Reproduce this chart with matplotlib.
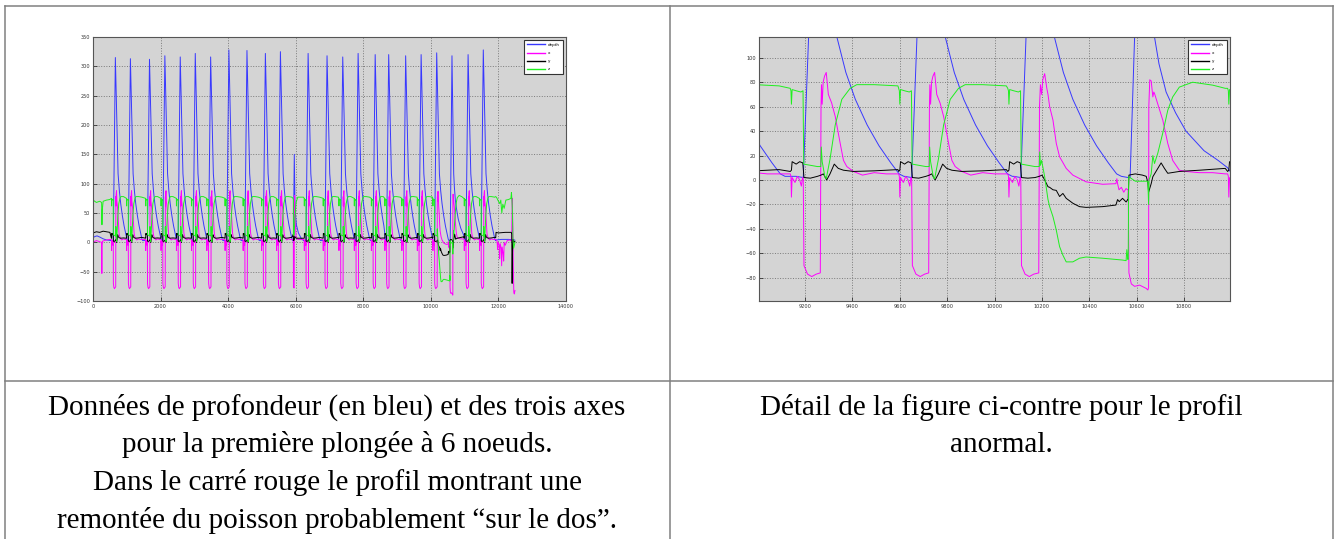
import numpy as np
import matplotlib
matplotlib.use("Agg")
import matplotlib.pyplot as plt
from matplotlib.lines import Line2D

# ---- dives (descent start, max depth, kind) ----
dive_t0 = [600, 1045, 1610, 2065, 2520, 2965, 3420, 3960, 4495, 5040, 5485, 5930,
           6305, 6865, 7330, 7785, 8290, 8690, 9192, 9650, 10111, 10565, 11040, 11490]
dive_peak = [315, 313, 312, 318, 316, 322, 316, 328, 327, 322, 325, 150,
             322, 318, 316, 322, 320, 320, 318, 320, 323, 318, 320, 328]
dive_kind = ['n'] * 11 + ['s'] + ['n'] * 8 + ['a', 'r', 'n', 'n']

# ---- dive profiles (offsets from descent start) ----
# normal dive
dep_n_off = [-30, 0, 62, 142, 180, 220, 270, 320, 370, 405, 425]
dep_n_val = [3, 2, None, 117, 88, 66, 45, 28, 14, 5, 3]
x_n_off = [-55, -52, -50, -47, -35, -25, -15, -8, -3, 0, 3, 18, 36, 55, 72, 75, 77, 80,
           84, 90, 97, 106, 120, 135, 156, 170, 184, 212, 250, 300, 350, 400]
x_n_val = [5, 3, -14, 2, -2, 3, 0, -5, 2, 1, -70, -77, -79, -77, -76, 60, 78, 62,
           80, 85, 88, 70, 63, 52, 30, 16, 11, 7, 4, 6, 5, 5]
y_n_off = [-55, -50, -47, -30, -15, -2, 3, 30, 60, 75, 85, 99, 113, 131, 148, 170, 212, 300, 400]
y_n_val = [7, 8, 15, 13, 15, 14, 2, 1.5, 3, 4, 5, 0, 5, 13, 9.5, 8, 7, 7.5, 8.5]
z_n_off = [-55, -52, -50, -47, -30, -10, -1, 2, 30, 60, 74, 76, 80, 92, 97, 113, 135,
           163, 198, 226, 300, 400]
z_n_val = [75, 73, 62, 74, 73, 72, 73, 13, 12, 11, 11, 27, 15, 2, 1, 17, 45,
           66, 75, 78, 78, 77]

# short shallow dive
dep_s_off = [-10, 0, 28, 50, 90, 150, 230, 300]
dep_s_val = [3, 2, None, 55, 30, 16, 7, 3]
x_s_off = [-10, 0, 3, 20, 26, 30, 36, 50, 80, 130, 300]
x_s_val = [4, 2, -76, -78, -76, 60, 80, 40, 10, 5, 5]
y_s_off = [-10, 0, 3, 26, 40, 80, 300]
y_s_val = [12, 14, 3, 4, 10, 7, 7]
z_s_off = [-10, 0, 3, 26, 30, 45, 80, 130, 300]
z_s_val = [75, 73, 12, 12, 20, 40, 68, 77, 77]

# abnormal dive (fish comes back up "on its back")
x_a_off = [-55, -52, -50, -47, -35, -25, -15, -8, -3, 0, 3, 18, 36, 55, 76, 79, 83, 88,
           93, 101, 110, 115, 122, 136, 150, 164, 192, 220, 276, 346, 402, 406, 409,
           415, 425, 435, 445, 452]
x_a_val = [5, 3, -14, 2, -2, 3, 0, -5, 2, 1, -70, -77, -79, -77, -76, 60, 78, 70,
           82, 87, 75, 70, 60, 49, 30, 19, 9.5, 4, -1.5, -3.5, -3, 1, -3,
           -8, -6, -10, -7, -8]
y_a_off = [-55, -50, -47, -30, -15, -2, 3, 30, 60, 78, 90, 101, 115, 122, 136, 150, 164,
           178, 192, 199, 220, 248, 276, 346, 402, 409, 416, 430, 445, 452]
y_a_val = [7, 8, 15, 13, 15, 14, 2, 1.5, 2, 3, 4, 0, -5.5, -6, -8, -8.5, -13.5,
           -11, -15, -16, -19, -21.8, -22.4, -21.8, -20.5, -16, -17.7, -15, -18, -16]
z_a_off = [-55, -52, -50, -47, -30, -10, -1, 2, 30, 60, 78, 80, 83, 88, 101, 115, 122,
           136, 150, 164, 178, 192, 220, 248, 276, 346, 402, 430, 445, 448, 452]
z_a_val = [75, 73, 62, 74, 73, 72, 73, 13, 12, 11, 11, 23, 12, 16, 2.7, -16, -21.8,
           -30, -41, -54.5, -61.5, -67, -67, -64, -63, -64, -65, -65.5, -66, -57, -65]

# dive following the abnormal one
dep_r_off = [0, 8, 60, 111, 130, 160, 200, 244, 320, 380, 420]
dep_r_val = [2, 2, None, 117, 95, 72, 55, 40, 24, 16, 10]
x_r_off = [0, 3, 13, 27, 48, 76, 83, 86, 87, 91, 97, 104, 108, 111, 125, 146, 167,
           188, 216, 244, 300, 357, 410]
x_r_val = [-8, -76, -85, -87, -86, -88.7, -90, -88, 60, 82, 81, 68, 72, 70.8, 62, 49, 30,
           16, 8, 7, 6, 6, 5]
y_r_off = [0, 3, 30, 60, 76, 83, 86, 97, 104, 125, 139, 153, 167, 216, 300, 410]
y_r_val = [-16, 4, 5, 4, 3, -2, -10, -3, 2.7, 9.5, 14, 9.5, 5.5, 7, 8, 9.5]
z_r_off = [0, 2, 30, 60, 83, 86, 88, 97, 104, 111, 125, 146, 167, 188, 216, 272, 357, 410]
z_r_val = [-65, 2.7, -1, -1, -1, -20, 0, 5, 20, 13.5, 22, 38.5, 57, 68, 76, 80, 77.6, 75]

# ---- record start (before first dive) and end (after last dive) ----
dep_start_t = [0, 60, 120, 200, 300, 400, 540]
dep_start_v = [8, 10, 11, 9, 6, 4, 3]
x_start_t = [0, 100, 200, 255, 262, 268, 280, 400, 500]
x_start_v = [0, 3, 1, 0, -53, -5, 2, 4, 5]
y_start_t = [0, 100, 200, 300, 400, 500]
y_start_v = [16, 18, 17, 19, 18, 17]
z_start_t = [0, 100, 200, 255, 265, 275, 300, 400, 500]
z_start_v = [72, 68, 70, 68, 30, 55, 70, 72, 73]

dep_end_t = [11930, 12100, 12300, 12480]
dep_end_v = [4, 5, 5, 4]
x_end_t = [11920, 11960, 11975, 11990, 12020, 12035, 12050, 12080, 12095, 12110, 12140,
           12155, 12170, 12200, 12260, 12330, 12390, 12410, 12425, 12440, 12455, 12470, 12490]
x_end_v = [5, 2, -12, 0, -5, -28, -2, -10, -40, -8, -20,
           -32, 0, -5, 3, 4, 2, 75, 30, -40, -85, -88, -82]
y_end_t = [11920, 11930, 12000, 12200, 12380, 12395, 12405, 12415, 12430, 12460, 12490]
y_end_v = [8, 17, 16, 17, 17, 14, -70, -20, 5, 0, 2]
z_end_t = [11920, 11950, 12000, 12040, 12070, 12100, 12130, 12170, 12220, 12300, 12370,
           12385, 12400, 12410, 12430, 12450, 12490]
z_end_v = [78, 76, 70, 66, 72, 50, 65, 58, 72, 73, 75,
           85, 72, 60, 5, -10, 0]

templates = {
    'depth': {'n': (dep_n_off, dep_n_val), 's': (dep_s_off, dep_s_val),
              'a': (dep_n_off, dep_n_val), 'r': (dep_r_off, dep_r_val)},
    'x': {'n': (x_n_off, x_n_val), 's': (x_s_off, x_s_val),
          'a': (x_a_off, x_a_val), 'r': (x_r_off, x_r_val)},
    'y': {'n': (y_n_off, y_n_val), 's': (y_s_off, y_s_val),
          'a': (y_a_off, y_a_val), 'r': (y_r_off, y_r_val)},
    'z': {'n': (z_n_off, z_n_val), 's': (z_s_off, z_s_val),
          'a': (z_a_off, z_a_val), 'r': (z_r_off, z_r_val)},
}
starts = {'depth': (dep_start_t, dep_start_v), 'x': (x_start_t, x_start_v),
          'y': (y_start_t, y_start_v), 'z': (z_start_t, z_start_v)}
ends = {'depth': (dep_end_t, dep_end_v), 'x': (x_end_t, x_end_v),
        'y': (y_end_t, y_end_v), 'z': (z_end_t, z_end_v)}


def series(name):
    t, v = list(starts[name][0]), list(starts[name][1])
    tmpl = templates[name]
    for i, t0 in enumerate(dive_t0):
        off, val = tmpl[dive_kind[i]]
        if i + 1 < len(dive_t0):
            nxt = dive_t0[i + 1] + tmpl[dive_kind[i + 1]][0][0]
        else:
            nxt = ends[name][0][0]
        for o, y in zip(off, val):
            if t0 + o < nxt:
                t.append(t0 + o)
                v.append(dive_peak[i] if y is None else y)
    t += ends[name][0]
    v += ends[name][1]
    return np.array(t), np.array(v)


names = ['depth', 'x', 'y', 'z']
colors = ['#3838ff', '#ff00ff', '#000000', '#1ef01e']
data = {n: series(n) for n in names}

W, H = 1334, 539
fig = plt.figure(figsize=(W / 100, H / 100), dpi=100)
fig.patch.set_facecolor('white')


def style(ax, xticks, yticks):
    ax.set_facecolor('#d4d4d4')
    ax.set_xticks(xticks)
    ax.set_yticks(yticks)
    ax.grid(True, linestyle=':', color='#7a7a7a', linewidth=0.7)
    ax.tick_params(direction='in', length=3, width=0.6, labelsize=3.6,
                   colors='#333333', pad=2)
    for s in ax.spines.values():
        s.set_color('#555555')
        s.set_linewidth(0.8)
    leg = ax.legend(loc='upper right', fontsize=3.0, handlelength=4.2,
                    fancybox=False, framealpha=1, edgecolor='#333333',
                    borderpad=0.7, labelspacing=1.0, borderaxespad=0.7)
    leg.get_frame().set_linewidth(0.8)
    for h in leg.get_lines():
        h.set_linewidth(1.0)


ax1 = fig.add_axes([93 / W, 1 - 301 / H, 473 / W, 264 / H])
for n, c in zip(names, colors):
    ax1.plot(data[n][0], data[n][1], color=c, linewidth=0.7, label=n)
ax1.set_xlim(0, 14000)
ax1.set_ylim(-100, 350)
style(ax1, np.arange(0, 14001, 2000), np.arange(-100, 351, 50))

ax2 = fig.add_axes([759 / W, 1 - 301 / H, 471 / W, 264 / H])
for n, c in zip(names, colors):
    ax2.plot(data[n][0], data[n][1], color=c, linewidth=0.7, label=n)
ax2.set_xlim(9005, 10995)
ax2.set_ylim(-99, 117)
style(ax2, np.arange(9200, 10801, 200), np.arange(-80, 101, 20))

# table rules
rule = dict(color='#808080', linewidth=1.1, transform=fig.transFigure)
fig.add_artist(Line2D([5 / W, 1333 / W], [1 - 6 / H, 1 - 6 / H], **rule))
fig.add_artist(Line2D([5 / W, 1333 / W], [1 - 381 / H, 1 - 381 / H], **rule))
fig.add_artist(Line2D([5 / W, 5 / W], [0, 1 - 6 / H], **rule))
fig.add_artist(Line2D([670 / W, 670 / W], [0, 1 - 6 / H], **rule))
fig.add_artist(Line2D([1333 / W, 1333 / W], [0, 1 - 6 / H], **rule))

left_caption = ["Données de profondeur (en bleu) et des trois axes",
                "pour la première plongée à 6 noeuds.",
                "Dans le carré rouge le profil montrant une",
                "remontée du poisson probablement “sur le dos”."]
right_caption = ["Détail de la figure ci-contre pour le profil",
                 "anormal."]
base0, pitch = 415, 37.5
for k, line in enumerate(left_caption):
    fig.text(337 / W, 1 - (base0 + k * pitch) / H, line, ha='center', va='baseline',
             fontsize=21, family='Liberation Serif', color='black')
for k, line in enumerate(right_caption):
    fig.text(1001 / W, 1 - (base0 + k * pitch) / H, line, ha='center', va='baseline',
             fontsize=21, family='Liberation Serif', color='black')

fig.savefig('out.png', dpi=100)
